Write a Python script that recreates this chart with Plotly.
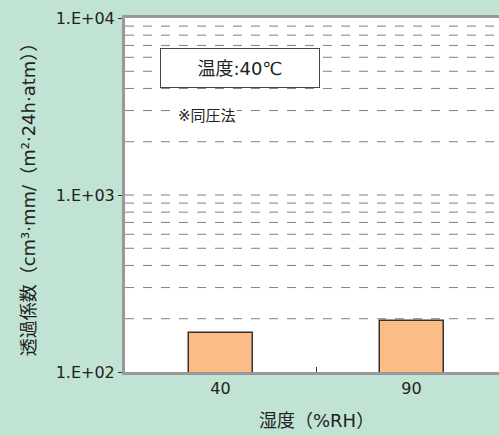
import plotly.graph_objects as go

categories = ["40", "90"]
values = [167, 195]
y_tickvals = [100, 1000, 10000]
y_ticktext = ["1.E+02", "1.E+03", "1.E+04"]

FONT = "DejaVu Sans, Noto Sans CJK JP"
BG = "#c0e3d4"
grid_vals = [m * 10 ** e for e in (2, 3) for m in range(1, 10)][1:]

fig = go.Figure()
fig.add_trace(go.Bar(
    x=categories, y=values, width=0.335,
    marker=dict(color="#fbbc86", line=dict(color="#333333", width=1.5)),
))

for g in grid_vals:
    fig.add_shape(type="line", xref="paper", x0=0, x1=1, yref="y", y0=g, y1=g,
                  line=dict(color="#808080", width=1, dash="dash"), layer="below")

fig.update_layout(
    width=499, height=436,
    margin=dict(l=125, r=0, t=18, b=64),
    paper_bgcolor=BG, plot_bgcolor="white",
    showlegend=False,
    font=dict(family=FONT, size=16, color="#222222"),
    bargap=0,
    xaxis=dict(
        type="category", range=[-0.5, 1.458],
        showline=True, linecolor="#999999", linewidth=3, mirror=True,
        ticks="inside", tickson="boundaries", ticklen=5, tickcolor="#333333", tickwidth=1,
        showgrid=False, tickfont=dict(size=16, family=FONT),
    ),
    yaxis=dict(
        type="log", range=[2, 4],
        tickvals=y_tickvals, ticktext=y_ticktext,
        showline=True, linecolor="#999999", linewidth=3,
        ticks="outside", ticklen=4, tickcolor="#333333",
        showgrid=False, tickfont=dict(size=16, family=FONT),
        title=dict(text="透過係数（cm³·mm/（m²·24h·atm））", font=dict(size=18, family=FONT), standoff=16),
    ),
)

fig.add_annotation(x=0.5, xref="x", y=-0.136, yref="paper", text="湿度（%RH）",
                   showarrow=False, font=dict(size=18, family=FONT), yanchor="middle")
fig.add_annotation(x=0.307, xref="paper", y=0.859, yref="paper", text="温度:40℃",
                   showarrow=False, font=dict(size=18, family=FONT),
                   bgcolor="white", bordercolor="#444444", borderwidth=1,
                   width=156, height=36, xanchor="center", yanchor="middle")
fig.add_annotation(x=0.219, xref="paper", y=0.723, yref="paper", text="※同圧法",
                   showarrow=False, font=dict(size=15, family=FONT),
                   bgcolor="white", xanchor="center", yanchor="middle", borderpad=0)
fig.write_html("out.html", config={"displayModeBar": False},
               post_script="document.body.style.margin='0';document.body.style.background='#c0e3d4';")
